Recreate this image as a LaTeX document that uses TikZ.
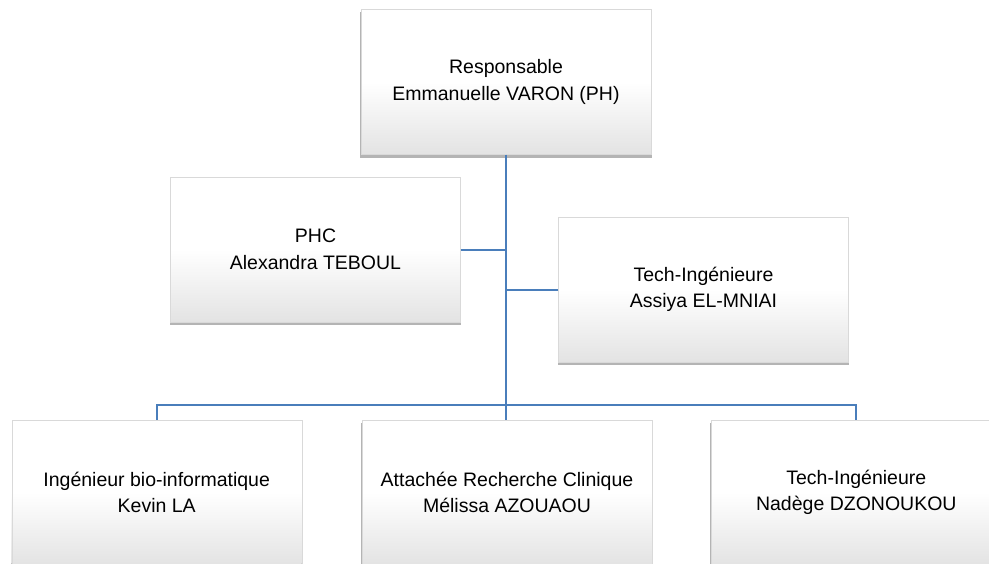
\documentclass[tikz,border=0pt]{standalone}
\usepackage{fontspec}
\setmainfont{Liberation Sans}
\usetikzlibrary{positioning,shadows}

\definecolor{linkblue}{RGB}{74,126,187}

\begin{document}
\begin{tikzpicture}[
  x=1pt, y=-1pt,
  font=\fontsize{19.5}{26.5}\selectfont, node distance=20pt and 20pt,
  box/.style={draw=gray!30, line width=0.3pt, align=center,
              minimum width=290pt, minimum height=145pt, inner sep=3pt,
              top color=white, bottom color=gray!22, middle color=white,
              general shadow={shadow xshift=0pt, shadow yshift=-3pt,
                              shadow scale=1.006, opacity=0.45, fill=gray!70!black}},
  link/.style={draw=linkblue, line width=2pt},
]
\useasboundingbox (0,0) rectangle (989,563);
\clip (0,0) rectangle (989,563);
% ---------------- boxes -----------------
\node[box] (resp) at (506,82) {Responsable\\Emmanuelle VARON (PH)};
\node[box] (phc) at (315.5,249.5) {PHC\\Alexandra TEBOUL};
\node[box] (tech) at (703.5,289.5) {Tech-Ingénieure\\Assiya EL-MNIAI};
\node[box] (arc) at (507,492.5) {Attachée Recherche Clinique\\Mélissa AZOUAOU};
\node[box, left=60pt of arc] (bio) {Ingénieur bio-informatique\\Kevin LA};
\node[box, right=59pt of arc] (techb) {Tech-Ingénieure\\Nadège DZONOUKOU};
% ---------------- links -----------------
\coordinate (bus) at (506,405);
\draw[link] (resp.south -| bus) -- (bus) -- (bus |- arc.north);
\draw[link] (phc.east) -- (phc.east -| bus);
\draw[link] (tech.west) -- (tech.west -| bus);
\draw[link] (bio.north) -- (bio.north |- bus) -| (techb.north);
\end{tikzpicture}
\end{document}
